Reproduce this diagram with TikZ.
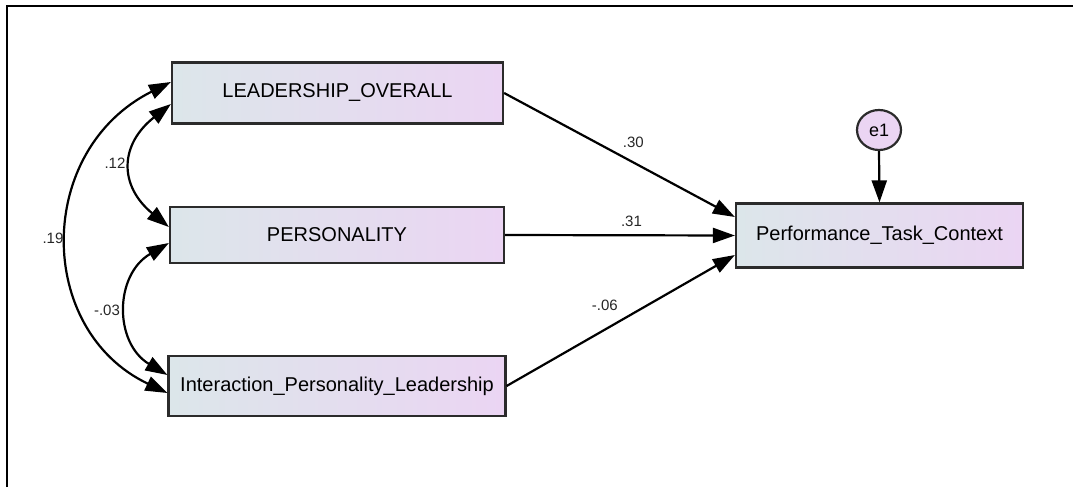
\documentclass[tikz,border=0pt]{standalone}
\usepackage{fontspec}
\setmainfont{Liberation Sans}
\usetikzlibrary{arrows.meta}
\usetikzlibrary{shapes.geometric}

\definecolor{boxleft}{HTML}{DCE6EA}
\definecolor{boxright}{HTML}{EBD5F3}
\definecolor{boxline}{HTML}{2B2B2B}

\begin{document}
\begin{tikzpicture}
	[x=1pt,y=-1pt,
	varbox/.style={draw=boxline, line width=2.2pt, shade, left color=boxleft, right color=boxright, inner sep=0pt, font=\fontsize{20}{24}\selectfont},
	errnode/.style={ellipse, draw=boxline, line width=2.2pt, fill=boxright, minimum width=44pt, minimum height=40pt, inner sep=0pt, font=\fontsize{18}{22}\selectfont},
	regpath/.style={line width=2.2pt, -{Triangle[length=22pt,width=15pt]}},
	covpath/.style={line width=2.2pt, {Triangle[length=22pt,width=15pt]}-{Triangle[length=22pt,width=15pt]}},
	coef/.style={font=\fontsize{15}{18}\selectfont, text=black!85}];

	\useasboundingbox (0,0) rectangle (1073,487);

	%Frame
	\draw[line width=1.5pt] (7,487) -- (7,6) -- (1073,6);

	%Variables
	\node[varbox, minimum width=331pt, minimum height=61pt] (lead) at (337.5,93) {LEADERSHIP\_OVERALL};
	\node[varbox, minimum width=334pt, minimum height=56pt] (pers) at (337,235) {PERSONALITY};
	\node[varbox, minimum width=337pt, minimum height=60pt] (inter) at (337,386) {Interaction\_Personality\_Leadership};
	\node[varbox, minimum width=287pt, minimum height=64pt] (perf) at (879.5,235.5) {Performance\_Task\_Context};
	\node[errnode] (e1) at (879,130) {e1};

	%Regression paths
	\draw[regpath] (lead.east) -- ([yshift=18.5pt]perf.west) node[coef, pos=0.56, above=10pt] {.30};
	\draw[regpath] (pers.east) -- (perf.west) node[coef, pos=0.55, above=4pt] {.31};
	\draw[regpath] (inter.east) -- ([yshift=-19.5pt]perf.west) node[coef, pos=0.43, above=15pt] {-.06};
	\draw[regpath] (e1.south) -- (perf.north);

	%Covariances
	\draw[covpath] ([yshift=-11pt]lead.west) .. controls (119,145) and (119,186) .. ([yshift=8pt]pers.west);
	\draw[covpath] ([yshift=-8pt]pers.west) .. controls (114,275) and (114,343) .. ([yshift=11pt]inter.west);
	\draw[covpath] ([yshift=11pt]lead.west) .. controls (35,150) and (35,330) .. ([yshift=-7pt]inter.west);
	\node[coef] (c12) at (115,163) {.12};
	\node[coef] (c03) at (107,310) {-.03};
	\node[coef] (c19) at (53,238) {.19};
\end{tikzpicture}
\end{document}
